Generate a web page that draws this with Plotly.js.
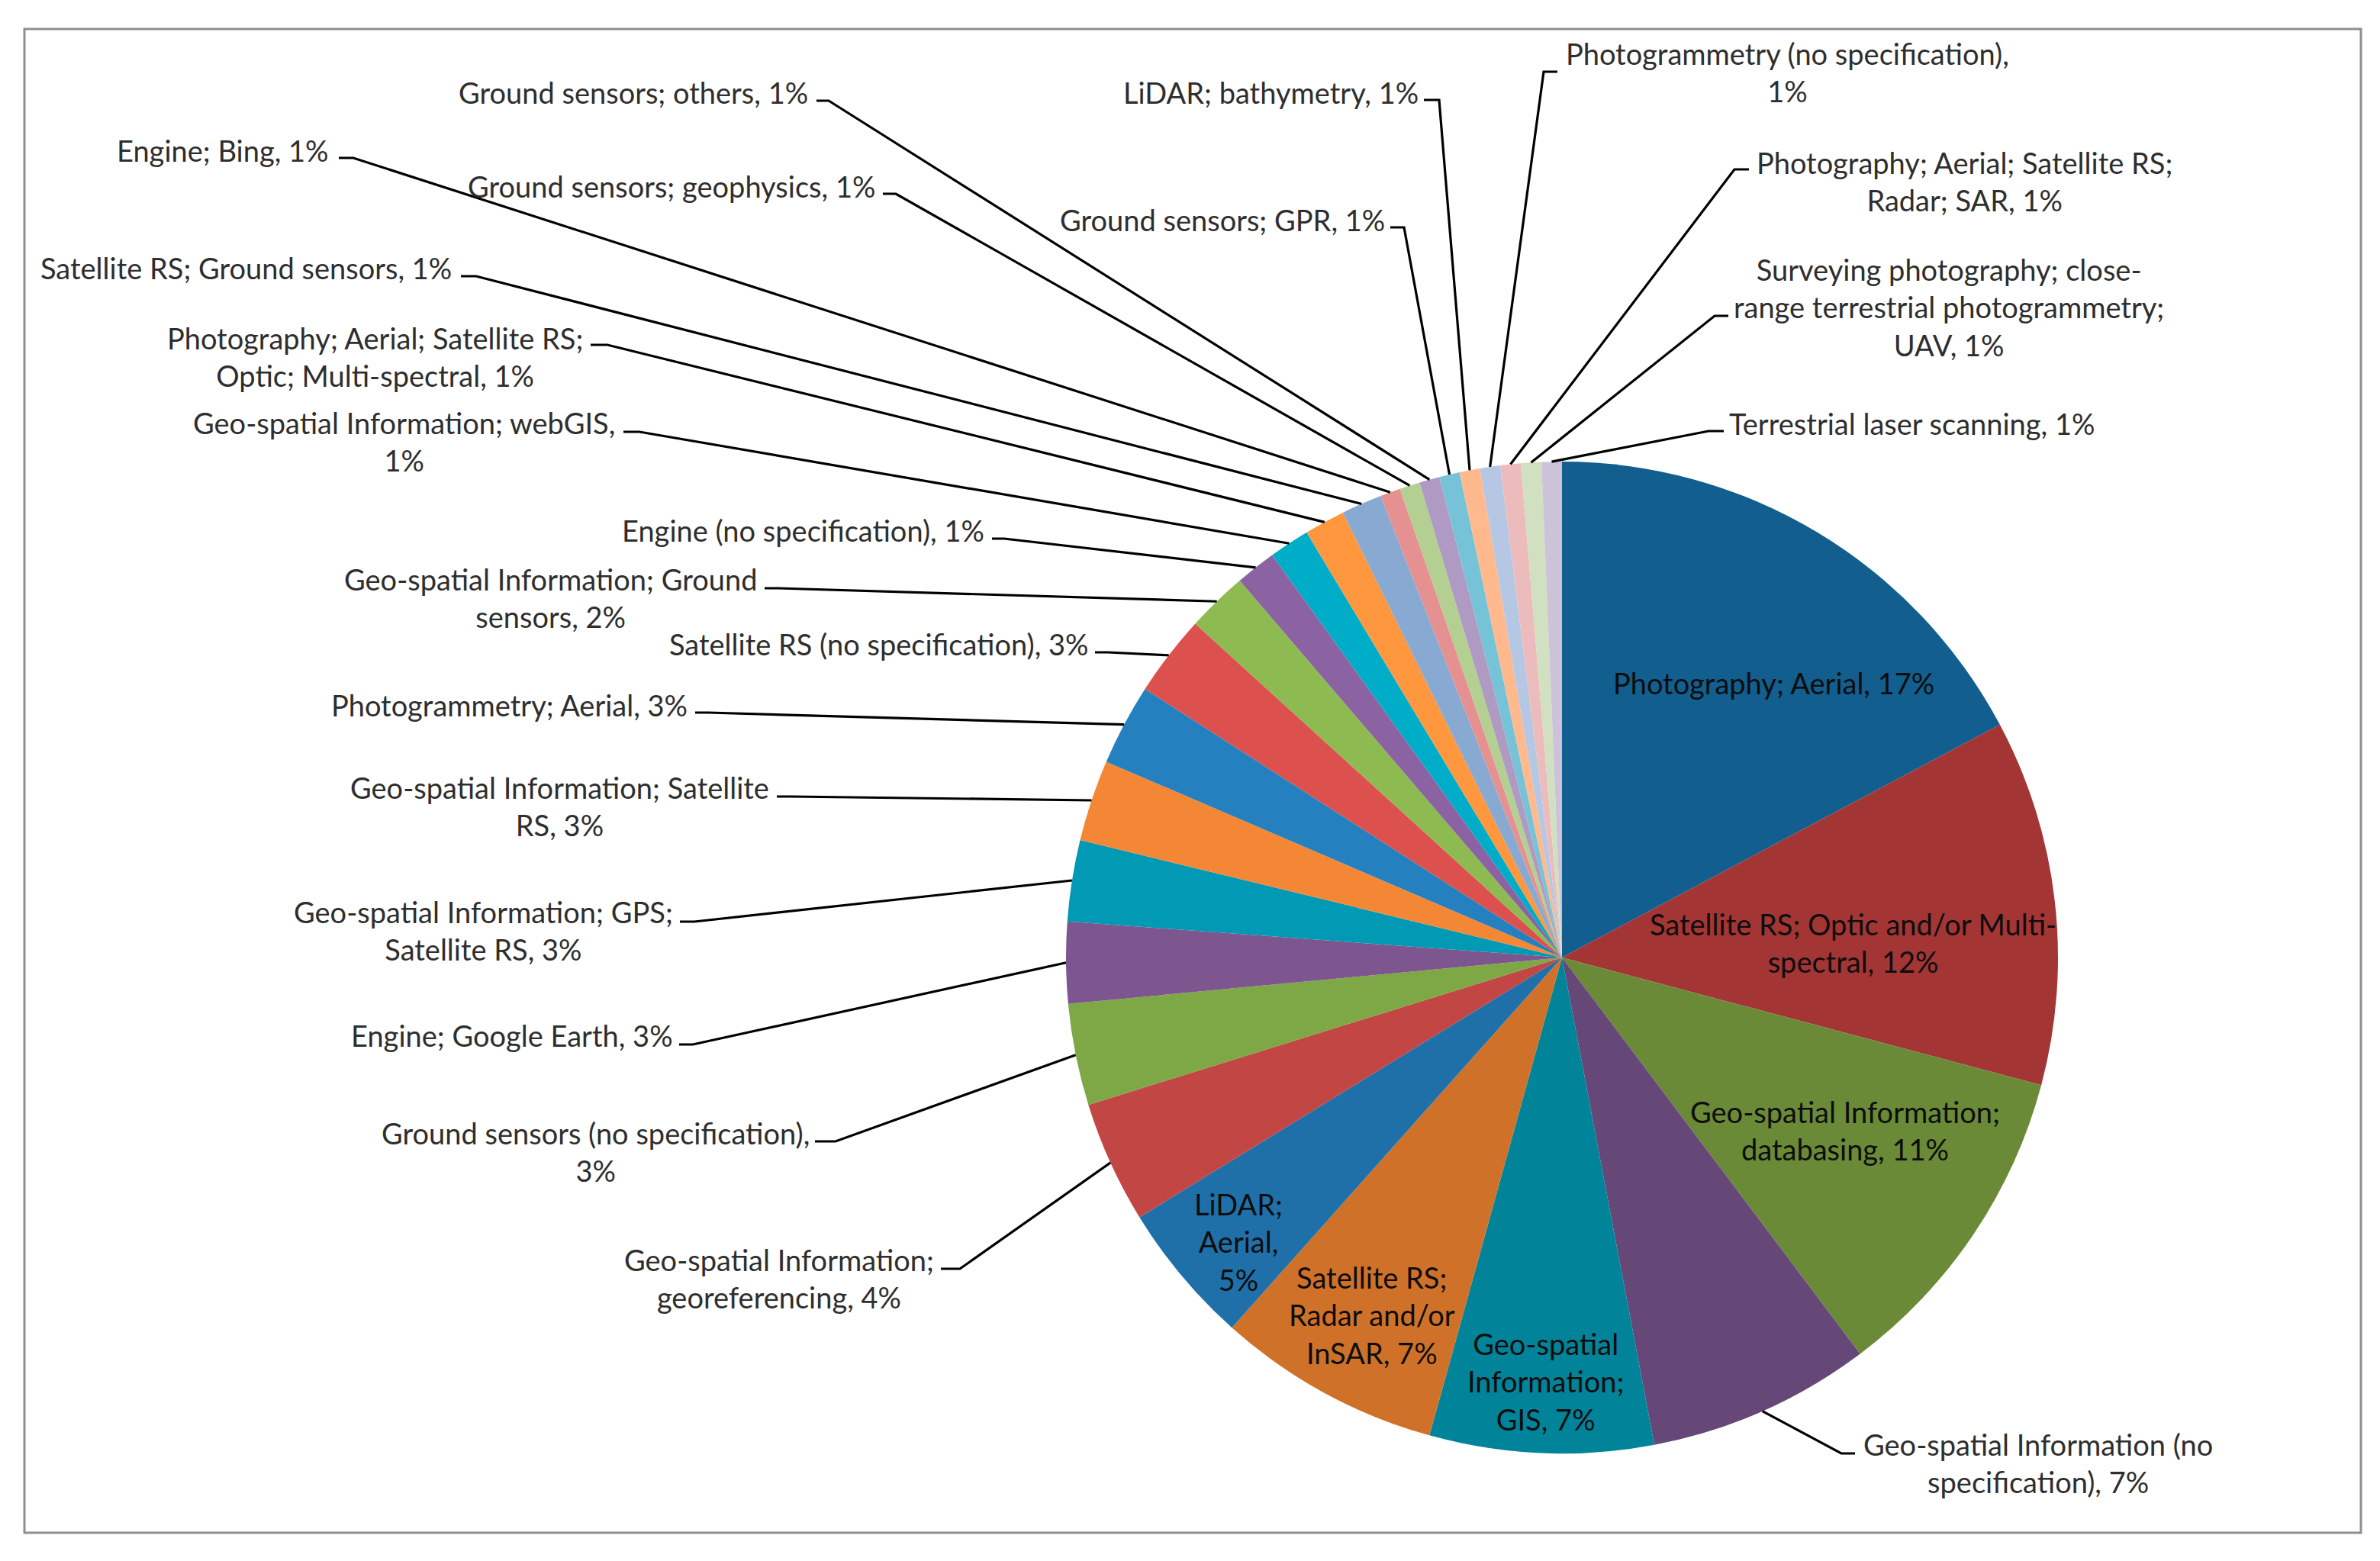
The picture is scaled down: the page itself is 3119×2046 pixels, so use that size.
<!DOCTYPE html>
<html>
<head>
<meta charset="utf-8">
<script src="https://cdn.plot.ly/plotly-3.0.1.min.js"></script>
<style>
html,body{margin:0;padding:0;background:#ffffff;}
#chart{width:3119px;height:2046px;}
</style>
</head>
<body>
<div id="chart"></div>
<script>
// ---------------- DATA ----------------
const categories = [
  "Photography; Aerial",
  "Satellite RS; Optic and/or Multi-spectral",
  "Geo-spatial Information; databasing",
  "Geo-spatial Information (no specification)",
  "Geo-spatial Information; GIS",
  "Satellite RS; Radar and/or InSAR",
  "LiDAR; Aerial",
  "Geo-spatial Information; georeferencing",
  "Ground sensors (no specification)",
  "Engine; Google Earth",
  "Geo-spatial Information; GPS; Satellite RS",
  "Geo-spatial Information; Satellite RS",
  "Photogrammetry; Aerial",
  "Satellite RS (no specification)",
  "Geo-spatial Information; Ground sensors",
  "Engine (no specification)",
  "Geo-spatial Information; webGIS",
  "Photography; Aerial; Satellite RS; Optic; Multi-spectral",
  "Satellite RS; Ground sensors",
  "Engine; Bing",
  "Ground sensors; geophysics",
  "Ground sensors; others",
  "Ground sensors; GPR",
  "LiDAR; bathymetry",
  "Photogrammetry (no specification)",
  "Photography; Aerial; Satellite RS; Radar; SAR",
  "Surveying photography; close-range terrestrial photogrammetry; UAV",
  "Terrestrial laser scanning"
];

const counts = [26, 18, 16, 11, 11, 11, 7, 6, 5, 4, 4, 4, 4, 4, 3, 2, 2, 2, 2, 1, 1, 1, 1, 1, 1, 1, 1, 1];

// label text as displayed (wrapped); {p} is replaced by the computed percentage
const labelText = [
  "Photography; Aerial, {p}",
  "Satellite RS; Optic and/or Multi-<br>spectral, {p}",
  "Geo-spatial Information;<br>databasing, {p}",
  "Geo-spatial Information (no<br>specification), {p}",
  "Geo-spatial<br>Information;<br>GIS, {p}",
  "Satellite RS;<br>Radar and/or<br>InSAR, {p}",
  "LiDAR;<br>Aerial,<br>{p}",
  "Geo-spatial Information;<br>georeferencing, {p}",
  "Ground sensors (no specification),<br>{p}",
  "Engine; Google Earth, {p}",
  "Geo-spatial Information; GPS;<br>Satellite RS, {p}",
  "Geo-spatial Information; Satellite<br>RS, {p}",
  "Photogrammetry; Aerial, {p}",
  "Satellite RS (no specification), {p}",
  "Geo-spatial Information; Ground<br>sensors, {p}",
  "Engine (no specification), {p}",
  "Geo-spatial Information; webGIS,<br>{p}",
  "Photography; Aerial; Satellite RS;<br>Optic; Multi-spectral, {p}",
  "Satellite RS; Ground sensors, {p}",
  "Engine; Bing, {p}",
  "Ground sensors; geophysics, {p}",
  "Ground sensors; others, {p}",
  "Ground sensors; GPR, {p}",
  "LiDAR; bathymetry, {p}",
  "Photogrammetry (no specification),<br>{p}",
  "Photography; Aerial; Satellite RS;<br>Radar; SAR, {p}",
  "Surveying photography; close-<br>range terrestrial photogrammetry;<br>UAV, {p}",
  "Terrestrial laser scanning, {p}"
];

// ---------------- STYLE / LAYOUT ----------------
const sliceColors = [
  "#125E8E", "#A33535", "#6A8A37", "#654878", "#01839A", "#D0712A", "#1F70A9",
  "#C24644", "#7EA746", "#7D5690", "#0199B4", "#F38736", "#2580BF", "#DC504E",
  "#8EBB51", "#8B63A3", "#00ADC8", "#FF973E", "#87A9D2", "#E59192", "#B3CF92",
  "#AE9AC2", "#76C3D8", "#FFB98D", "#B6C7E3", "#ECBCBC", "#D0E0C0", "#CCC2DA"
];

const W = 3119, H = 2046;
const pieCenter = [2047, 1255];
const pieRadius = 650;

// label placement in page pixels: [x, yCenter, anchor, attachX, attachY, elbowX]
// anchor 'in' = centred inside slice (no leader)
const labelPlacement = [
  [2324, 895, "in"],
  [2428, 1235, "in"],
  [2418, 1481, "in"],
  [2441, 1917, "left", 2431, 1905, 2413],
  [2025, 1810, "in"],
  [1798, 1723, "in"],
  [1623, 1627, "in"],
  [1225, 1675, "right", 1233, 1663, 1258],
  [1062, 1509, "right", 1068, 1496, 1095],
  [883, 1357, "right", 890, 1369, 908],
  [883, 1219, "right", 891, 1208, 910],
  [1009, 1056, "right", 1018, 1044, 1036],
  [902, 924, "right", 911, 934, 928],
  [1428, 844, "right", 1435, 855, 1452],
  [993, 783, "right", 1002, 771, 1020],
  [1291, 695, "right", 1300, 706, 1316],
  [807, 579, "right", 817, 566, 838],
  [765, 467, "right", 774, 452, 796],
  [593, 351, "right", 604, 362, 624],
  [432, 197, "right", 444, 207, 463],
  [1148, 244, "right", 1157, 254, 1174],
  [1060, 121, "right", 1070, 132, 1086],
  [1816, 288, "right", 1822, 298, 1840],
  [1860, 121, "right", 1866, 131, 1886],
  [2051, 95, "left", 2041, 94, 2023],
  [2301, 237, "left", 2292, 222, 2273],
  [2271, 402, "left", 2265, 414, 2247],
  [2265, 555, "left", 2259, 565, 2239]
];

const fontFamily = "Lato, 'Open Sans', 'Liberation Sans', sans-serif";
const fontSize = 38;

// ---------------- BUILD ----------------
const px = x => x / W;
const py = y => 1 - y / H;

const total = counts.reduce((a, b) => a + b, 0);

const trace = {
  type: "pie",
  labels: categories,
  values: counts,
  sort: false,
  direction: "clockwise",
  rotation: 0,
  marker: { colors: sliceColors, line: { width: 0 } },
  textinfo: "none",
  hoverinfo: "label+percent",
  showlegend: false,
  domain: {
    x: [px(pieCenter[0] - pieRadius), px(pieCenter[0] + pieRadius)],
    y: [py(pieCenter[1] + pieRadius), py(pieCenter[1] - pieRadius)]
  }
};

const annotations = [];
const shapes = [];

// chart border
shapes.push({
  type: "rect", xref: "paper", yref: "paper",
  x0: px(32), x1: px(3094), y0: py(2009), y1: py(38),
  line: { color: "#8f8f8f", width: 3 }, fillcolor: "rgba(0,0,0,0)", layer: "below"
});

let cum = 0;
counts.forEach((v, i) => {
  const mid = (cum + v / 2) / total * 2 * Math.PI; // clockwise from 12 o'clock
  cum += v;
  const pct = Math.round(v / total * 100) + "%";
  const txt = labelText[i].replace("{p}", pct);
  const p = labelPlacement[i];
  const inside = p[2] === "in";
  annotations.push({
    xref: "paper", yref: "paper",
    x: px(p[0]), y: py(p[1]),
    xanchor: inside ? "center" : p[2],
    yanchor: "middle",
    text: txt, showarrow: false, align: "center", borderpad: 0,
    font: { family: fontFamily, size: fontSize, color: inside ? "#0d0d0d" : "#2e2e2e" }
  });
  if (!inside) {
    const ex = pieCenter[0] + pieRadius * Math.sin(mid);
    const ey = pieCenter[1] - pieRadius * Math.cos(mid);
    const path = "M " + px(p[3]) + " " + py(p[4]) +
                 " L " + px(p[5]) + " " + py(p[4]) +
                 " L " + px(ex) + " " + py(ey);
    shapes.push({
      type: "path", xref: "paper", yref: "paper", path: path,
      line: { color: "#000000", width: 3.2 }
    });
  }
});

const layout = {
  width: W, height: H,
  margin: { l: 0, r: 0, t: 0, b: 0 },
  paper_bgcolor: "#ffffff",
  plot_bgcolor: "#ffffff",
  showlegend: false,
  annotations: annotations,
  shapes: shapes
};

Plotly.newPlot("chart", [trace], layout, { staticPlot: true, displayModeBar: false });
</script>
</body>
</html>
